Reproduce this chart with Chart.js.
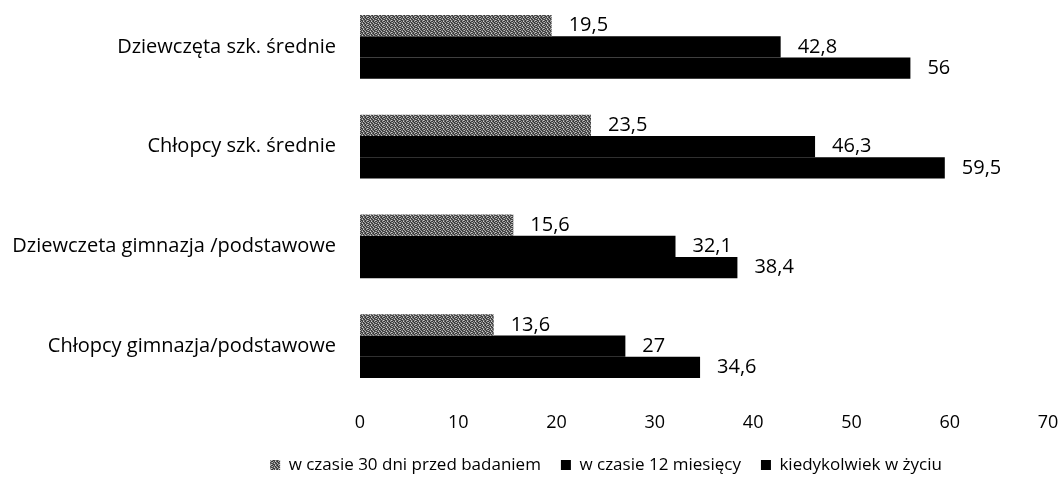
<!DOCTYPE html>
<html>
<head>
<meta charset="utf-8">
<script src="https://cdn.jsdelivr.net/npm/chart.js@4.4.1/dist/chart.umd.min.js"></script>
<style>
  html, body { margin: 0; padding: 0; background: #ffffff; overflow: hidden; }
  #wrap { width: 1062px; height: 490px; position: relative; top: -3px; }
</style>
</head>
<body>
<div id="wrap"><canvas id="c"></canvas></div>
<script>
const categories = [
  "Dziewczęta szk. średnie",
  "Chłopcy szk. średnie",
  "Dziewczeta gimnazja /podstawowe",
  "Chłopcy gimnazja/podstawowe"
];
const seriesNames = ["w czasie 30 dni przed badaniem", "w czasie 12 miesięcy", "kiedykolwiek w życiu"];
const last30days = [19.5, 23.5, 15.6, 13.6];
const last12months = [42.8, 46.3, 32.1, 27];
const lifetime = [56, 59.5, 38.4, 34.6];
const xTicks = [0, 10, 20, 30, 40, 50, 60, 70];

const FONT = "'Open Sans', Lato, sans-serif";

function makePattern() {
  const p = document.createElement('canvas');
  p.width = 8; p.height = 4;
  const g = p.getContext('2d');
  const m = [
    [0x33,0x99,0x44,0xcc,0x55,0x33,0xaa,0x44],
    [0xbb,0x44,0x77,0x33,0x99,0x66,0x33,0x88],
    [0x44,0x66,0xcc,0x55,0x33,0xbb,0x55,0x44],
    [0x88,0x33,0x44,0x99,0x66,0x44,0x77,0xcc]
  ];
  for (let y = 0; y < 4; y++) for (let x = 0; x < 8; x++) {
    const v = m[y][x];
    g.fillStyle = `rgb(${v},${v},${v})`;
    g.fillRect(x, y, 1, 1);
  }
  return g.createPattern(p, 'repeat');
}
const grayPattern = makePattern();

const valueLabels = {
  id: 'valueLabels',
  afterDatasetsDraw(chart) {
    const ctx = chart.ctx;
    ctx.save();
    ctx.font = "20px " + FONT;
    ctx.fillStyle = "#000";
    ctx.textAlign = "left";
    ctx.textBaseline = "middle";
    chart.data.datasets.forEach((ds, di) => {
      const meta = chart.getDatasetMeta(di);
      meta.data.forEach((bar, i) => {
        const txt = String(ds.data[i]).replace('.', ',');
        ctx.fillText(txt, bar.x + 17, bar.y);
      });
    });
    ctx.restore();
  }
};

const LEGEND_SHIFT = 82;
const shiftLegend = {
  id: 'shiftLegend',
  afterLayout(chart) {
    const lg = chart.legend;
    if (lg) { lg.left += LEGEND_SHIFT; lg.right += LEGEND_SHIFT; }
  }
};

new Chart(document.getElementById('c'), {
  type: 'bar',
  data: {
    labels: categories,
    datasets: [
      { label: seriesNames[0], data: last30days, backgroundColor: grayPattern, borderWidth: 0 },
      { label: seriesNames[1], data: last12months, backgroundColor: "#000000", borderWidth: 0 },
      { label: seriesNames[2], data: lifetime, backgroundColor: "#000000", borderWidth: 0 }
    ]
  },
  options: {
    indexAxis: 'y',
    responsive: true,
    maintainAspectRatio: false,
    animation: false,
    layout: { padding: { top: 0, right: 14, left: 0, bottom: 3.5 } },
    datasets: { bar: { categoryPercentage: 0.64, barPercentage: 1.0 } },
    scales: {
      x: {
        min: 0, max: 70,
        afterBuildTicks(scale) { scale.ticks = xTicks.map(v => ({ value: v })); },
        afterFit(scale) { scale.height = 40.5; scale.paddingLeft = 0; scale.paddingRight = 0; },
        grid: { display: false, drawTicks: false },
        border: { display: false },
        ticks: { color: "#000", font: { family: FONT, size: 18 }, padding: 16, maxRotation: 0 }
      },
      y: {
        grid: { display: false, drawTicks: false },
        border: { display: false },
        afterFit(scale) { scale.width = 360; scale.paddingTop = 0; scale.paddingBottom = 0; },
        ticks: { color: "#000", font: { family: FONT, size: 20 }, padding: 24 }
      }
    },
    plugins: {
      legend: {
        position: 'bottom',
        labels: {
          color: "#000",
          font: { family: FONT, size: 17 },
          boxWidth: 10, boxHeight: 10,
          padding: 20
        }
      },
      tooltip: { enabled: false }
    }
  },
  plugins: [valueLabels, shiftLegend]
});
</script>
</body>
</html>
